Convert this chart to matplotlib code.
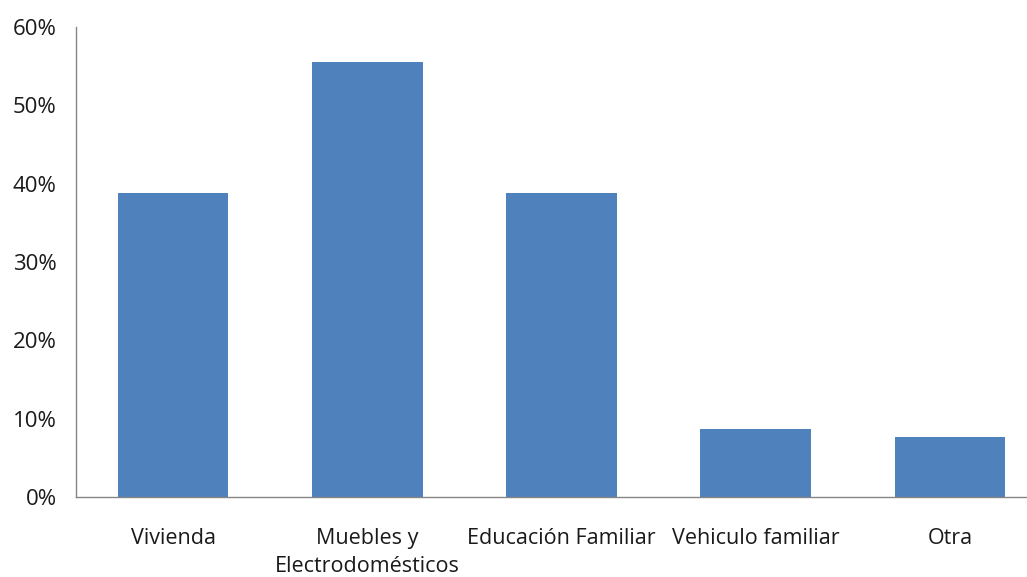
import matplotlib
matplotlib.use("Agg")
import matplotlib.pyplot as plt
from matplotlib.ticker import FuncFormatter

categorias = ["Vivienda", "Muebles y\nElectrodomésticos", "Educación Familiar",
              "Vehiculo familiar", "Otra"]
valores = [0.388, 0.555, 0.388, 0.087, 0.077]

plt.rcParams['font.family'] = ['Open Sans', 'DejaVu Sans']

fig = plt.figure(figsize=(10.27, 5.77), dpi=100)
ax = fig.add_axes([76 / 1027, 1 - 497 / 577, 1 - 76 / 1027, (497 - 27) / 577])

x = list(range(len(categorias)))
ax.bar(x, valores, width=0.57, color="#4F81BD")

ax.set_xlim(-0.5, 4.396)
ax.set_ylim(0, 0.6)
ax.set_yticks([0, 0.1, 0.2, 0.3, 0.4, 0.5, 0.6])
ax.yaxis.set_major_formatter(FuncFormatter(lambda v, p: "%d%%" % round(v * 100)))
ax.set_xticks(x)
ax.set_xticklabels(categorias, linespacing=1.45, fontsize=15.5)

for s in ["top", "right"]:
    ax.spines[s].set_visible(False)
for s in ["left", "bottom"]:
    ax.spines[s].set_color("#868686")
    ax.spines[s].set_linewidth(1.0)

ax.tick_params(axis="both", length=0, colors="#1a1a1a")
ax.tick_params(axis="y", labelsize=16, pad=14)
ax.tick_params(axis="x", pad=22)

fig.savefig("out.png", dpi=100)
